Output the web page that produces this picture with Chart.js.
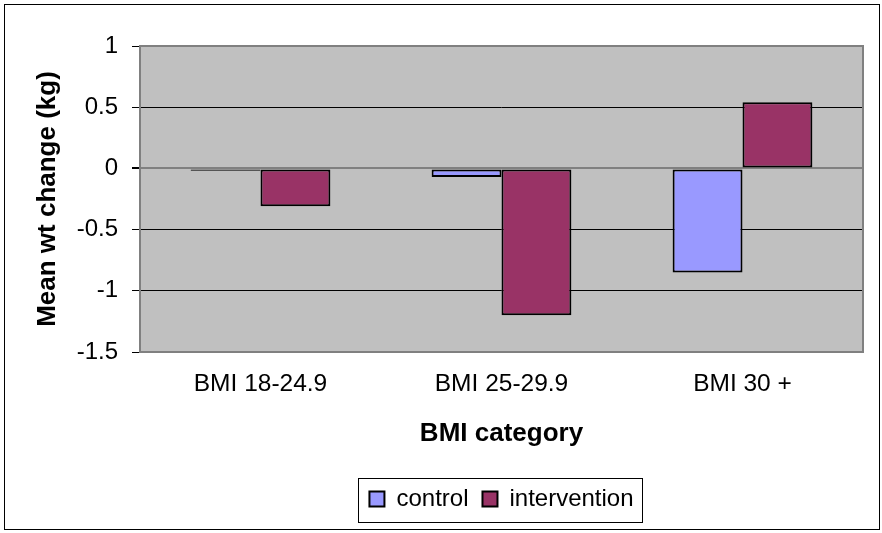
<html>

<head>
    <title>
        BMI weight change
    </title>
    <script src="https://cdn.jsdelivr.net/npm/chart.js"></script>
    <style>
        body {
            margin: 0;
            background: #ffffff;
        }

        .container {
            width: 882px;
            height: 533px;
        }
    </style>
</head>

<body>
    <div class="container">
        <canvas id="myChart" width="882" height="533"></canvas>
    </div>

    <script>
        // values
        const categories = ['BMI 18-24.9', 'BMI 25-29.9', 'BMI 30 +']
        const control = [-0.02, -0.07, -0.85]
        const intervention = [-0.31, -1.2, 0.54]
        const yTicks = [1, 0.5, 0, -0.5, -1, -1.5]

        const font = 'Arial, "Liberation Sans", sans-serif'

        // gray plot area, outer frame and a box round the legend
        const excelLook = {
            id: 'excelLook',
            beforeDraw(chart) {
                const { ctx, chartArea } = chart
                ctx.save()
                ctx.fillStyle = '#ffffff'
                ctx.fillRect(0, 0, chart.width, chart.height)
                ctx.fillStyle = '#c0c0c0'
                ctx.fillRect(chartArea.left, chartArea.top, chartArea.width, chartArea.height)
                ctx.restore()
            },
            afterDraw(chart) {
                const { ctx, chartArea } = chart
                ctx.save()
                ctx.strokeStyle = '#808080'
                ctx.lineWidth = 2
                ctx.strokeRect(chartArea.left, chartArea.top, chartArea.width, chartArea.height)
                ctx.strokeStyle = '#000'
                ctx.lineWidth = 1
                ctx.strokeRect(4.5, 4.5, 875, 525)
                const boxes = chart.legend.legendHitBoxes
                if (boxes && boxes.length) {
                    let l = Infinity, t = Infinity, r = -Infinity, b = -Infinity
                    boxes.forEach(h => {
                        l = Math.min(l, h.left); t = Math.min(t, h.top)
                        r = Math.max(r, h.left + h.width); b = Math.max(b, h.top + h.height)
                    })
                    ctx.strokeRect(Math.round(l - 11) + 0.5, Math.round(t - 9) + 0.5, Math.round(r - l + 20), Math.round(b - t + 20))
                }
                ctx.restore()
            }
        }

        var ctx = document.getElementById('myChart').getContext('2d')

        var myChart = new Chart(ctx, {
            type: 'bar',
            data: {
                labels: categories,
                datasets: [{
                    label: 'control',
                    data: control,
                    backgroundColor: '#9999ff',
                    borderColor: '#000000',
                    borderWidth: 2,
                    borderSkipped: false
                },
                {
                    label: 'intervention',
                    data: intervention,
                    backgroundColor: '#993366',
                    borderColor: '#000000',
                    borderWidth: 2,
                    borderSkipped: false
                }]
            },
            plugins: [excelLook],
            options: {
                responsive: false,
                animation: false,
                devicePixelRatio: 1,
                layout: {
                    padding: { left: 0, top: 46, right: 19, bottom: 12 }
                },
                datasets: {
                    bar: { categoryPercentage: 0.58, barPercentage: 1.0 }
                },
                plugins: {
                    tooltip: { enabled: false },
                    legend: {
                        position: 'bottom',
                        fullSize: false,
                        labels: {
                            color: '#000',
                            font: { family: font, size: 24 },
                            boxWidth: 15,
                            boxHeight: 15,
                            padding: 14
                        }
                    }
                },
                scales: {
                    x: {
                        grid: { display: false },
                        border: { display: false },
                        ticks: {
                            color: '#000',
                            font: { family: font, size: 24.5 },
                            padding: 10,
                            maxRotation: 0
                        },
                        title: {
                            display: true,
                            text: 'BMI category',
                            color: '#000',
                            font: { family: font, size: 26, weight: 'bold' },
                            padding: { top: 0, bottom: 24 }
                        },
                        afterFit(scale) { scale.height = 121 }
                    },
                    y: {
                        min: -1.5,
                        max: 1,
                        afterBuildTicks(scale) {
                            scale.ticks = yTicks.map(v => ({ value: v }))
                        },
                        border: { display: false },
                        grid: {
                            color: c => (c.tick && (c.tick.value === 1 || c.tick.value === -1.5)) ? 'rgba(0,0,0,0)' :
                                (c.tick && c.tick.value === 0 ? '#808080' : '#000000'),
                            lineWidth: c => (c.tick && c.tick.value === 0) ? 2 : 1,
                            tickColor: '#000',
                            tickLength: 8
                        },
                        ticks: {
                            color: '#000',
                            font: { family: font, size: 24 },
                            padding: 14,
                            callback: v => String(v)
                        },
                        title: {
                            display: true,
                            text: 'Mean wt change (kg)',
                            color: '#000',
                            font: { family: font, size: 26, weight: 'bold' },
                            padding: { top: 32, bottom: 0 }
                        },
                        afterFit(scale) { scale.width = 140 }
                    }
                }
            }
        })
    </script>
</body>

</html>
